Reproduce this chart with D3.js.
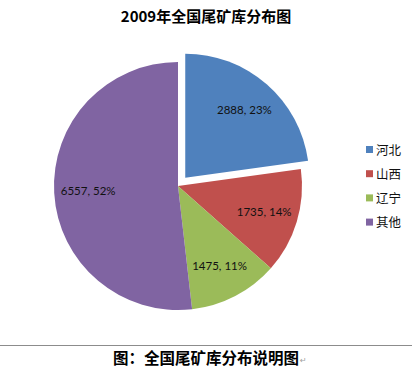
<!DOCTYPE html>
<html lang="zh">
<head>
    <meta charset="UTF-8">
    <title>2009年全国尾矿库分布图</title>
    <script src="https://d3js.org/d3.v7.min.js"></script>
    <style>
        body {
            margin: 0;
            background: #fff;
        }

        svg {
            display: block;
        }

        .title {
            font-family: "Noto Sans CJK SC", sans-serif;
            font-size: 15px;
            font-weight: bold;
            text-anchor: middle;
        }

        .label {
            font-family: Lato, "Open Sans", sans-serif;
            font-size: 11.5px;
            text-anchor: middle;
            fill: #111;
        }

        .legend text {
            font-family: "Noto Sans CJK SC", sans-serif;
            font-size: 12.5px;
            fill: #111;
        }

        .caption {
            font-family: "Noto Sans CJK SC", sans-serif;
            font-size: 15.5px;
            font-weight: bold;
            text-anchor: middle;
        }
    </style>
</head>
<body>
    <svg></svg>

    <script>
        // data
        const provinces = ["河北", "山西", "辽宁", "其他"];
        const counts = [2888, 1735, 1475, 6557];
        const percents = ["23%", "14%", "11%", "52%"];
        const colors = ["#4F81BD", "#C0504D", "#9BBB59", "#8064A2"];
        const exploded = [true, false, false, false];

        const width = 412;
        const height = 368;
        const cx = 178, cy = 186;
        const radius = 124;
        const explodeBy = 11;

        const svg = d3.select("svg")
            .attr("width", width)
            .attr("height", height);

        svg.append("text")
            .attr("class", "title")
            .attr("x", 206)
            .attr("y", 22)
            .text("2009年全国尾矿库分布图");

        const data = provinces.map((p, i) => ({
            name: p,
            value: counts[i],
            pct: percents[i],
            color: colors[i],
            explode: exploded[i]
        }));

        const pie = d3.pie().sort(null).value(d => d.value);
        const arc = d3.arc().innerRadius(0).outerRadius(radius);
        const labelArc = d3.arc().innerRadius(90).outerRadius(90);

        const g = svg.append("g")
            .attr("transform", `translate(${cx},${cy})`);

        const slices = g.selectAll(".slice")
            .data(pie(data))
            .enter().append("g")
            .attr("class", "slice")
            .attr("transform", d => {
                if (!d.data.explode) return null;
                const mid = (d.startAngle + d.endAngle) / 2;
                return `translate(${Math.sin(mid) * explodeBy},${-Math.cos(mid) * explodeBy})`;
            });

        slices.append("path")
            .attr("d", arc)
            .attr("fill", d => d.data.color);

        slices.append("text")
            .attr("class", "label")
            .attr("transform", d => `translate(${labelArc.centroid(d)})`)
            .attr("dy", "0.35em")
            .text(d => `${d.data.value}, ${d.data.pct}`);

        // legend
        const legend = svg.append("g")
            .attr("class", "legend")
            .attr("transform", "translate(366,146)");

        const items = legend.selectAll("g")
            .data(data)
            .enter().append("g")
            .attr("transform", (d, i) => `translate(0,${i * 24.2})`);

        items.append("rect")
            .attr("width", 7)
            .attr("height", 7)
            .attr("fill", d => d.color);

        items.append("text")
            .attr("x", 10)
            .attr("y", 4)
            .attr("dy", "0.36em")
            .text(d => d.name);

        // caption underneath
        svg.append("line")
            .attr("x1", 0)
            .attr("x2", width)
            .attr("y1", 345.5)
            .attr("y2", 345.5)
            .attr("stroke", "#8c8c8c")
            .attr("stroke-width", 1);

        const caption = svg.append("text")
            .attr("class", "caption")
            .attr("x", 206)
            .attr("y", 364)
            .text("图：全国尾矿库分布说明图");

        // paragraph mark right after the caption
        const capEnd = 206 + caption.node().getComputedTextLength() / 2;
        svg.append("text")
            .attr("x", capEnd + 1)
            .attr("y", 363)
            .attr("font-family", "DejaVu Sans, sans-serif")
            .attr("font-size", 8)
            .attr("fill", "#a0a0a0")
            .text("↵");
    </script>
</body>
</html>
